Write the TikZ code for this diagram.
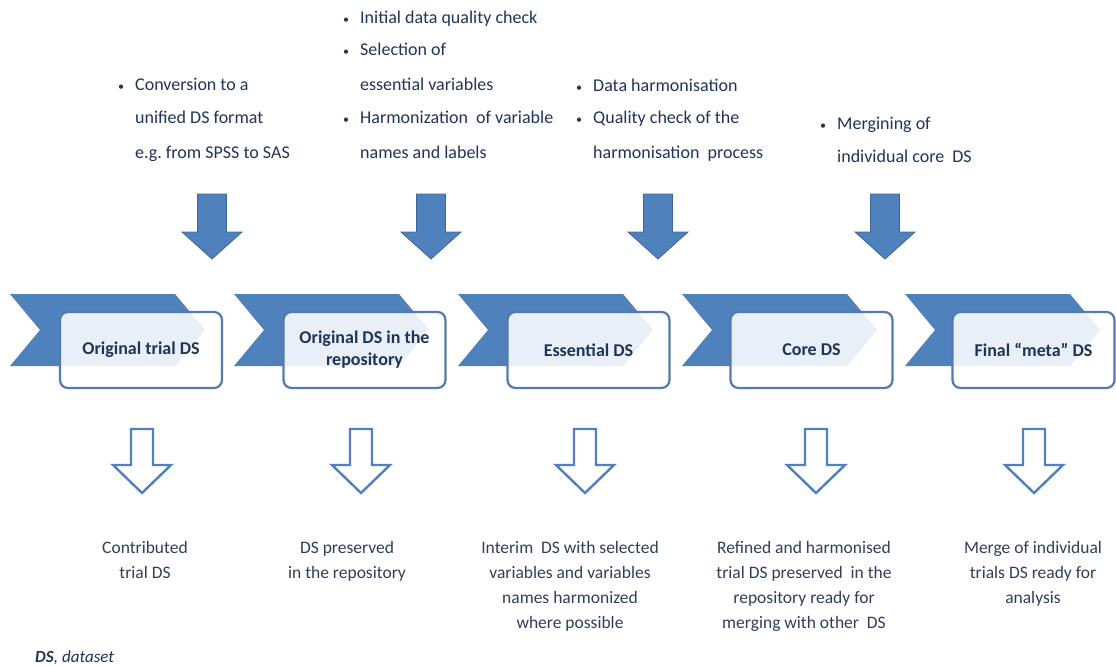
\documentclass[tikz,border=0pt]{standalone}
\usepackage{fontspec}
\setmainfont{Carlito}
\frenchspacing
\definecolor{chev}{RGB}{79,129,189}
\definecolor{chevdark}{RGB}{62,102,152}
\definecolor{boxline}{RGB}{86,122,172}
\definecolor{txt}{RGB}{31,52,88}
\definecolor{txtb}{RGB}{48,62,86}
\begin{document}
\begin{tikzpicture}[x=1pt,y=-1pt,
  chevron/.style={fill=chev},
  stagebox/.style={draw=boxline, line width=2.2pt, rounded corners=8pt, fill=white, fill opacity=0.88, text opacity=1, minimum width=162pt, minimum height=76pt, inner sep=2pt, align=center, font=\bfseries\fontsize{18}{22}\selectfont, text=txt},
  topline/.style={anchor=base west, inner sep=0pt, font=\fontsize{18}{22}\selectfont, text=txt},
  botline/.style={anchor=base, inner sep=0pt, font=\fontsize{17.5}{21}\selectfont, text=txtb},
  bul/.style={anchor=base west, inner sep=0pt, font=\fontsize{12}{12}\selectfont, text=txt},
  fatarrow/.style={fill=chev, draw=chevdark, line width=0.8pt, line join=miter},
  hollowarrow/.style={draw=chev, fill=white, line width=2.4pt, line join=miter},
  foot/.style={anchor=base west, inner sep=0pt, font=\fontsize{17}{20}\selectfont, text=txt}
]
\useasboundingbox (0,0) rectangle (1116,666);

% chevrons
\foreach \x in {10,234,458,682,905}
  \fill[chevron] (\x,294) -- ++(165,0) -- ++(30,36) -- ++(-30,36) -- ++(-165,0) -- ++(30,-36) -- cycle;

% stage boxes
\node[stagebox] (b1) at (141,350) {Original trial DS};
\node[stagebox] (b2) at (364.5,350) {Original DS in the\\repository};
\node[stagebox] (b3) at (588.5,350) {Essential DS};
\node[stagebox] (b4) at (811.5,350) {Core DS};
\node[stagebox] (b5) at (1033.5,350) {Final “meta” DS};

% top filled arrows
\foreach \x in {212,431,658,885}
  \draw[fatarrow, shift={(\x,194)}] (-14.5,0) -- (14.5,0) -- (14.5,38) -- (30,38) -- (0,65) -- (-30,38) -- (-14.5,38) -- cycle;

% bottom hollow arrows
\foreach \x in {142,361,585,816,1034}
  \draw[hollowarrow, shift={(\x,429)}] (-11,0) -- (11,0) -- (11,36) -- (29,36) -- (0,64) -- (-29,36) -- (-11,36) -- cycle;

% top texts
\node[bul] (u11) at (118,91) {\textbullet};
\foreach \y/\t [count=\k] in {91/Conversion to a, 124/unified DS format, 158/e.g. from SPSS to SAS}
  \node[topline] (ta\k) at (135,\y) {\t};

\node[bul] (u21) at (343,24) {\textbullet};
\node[bul] (u22) at (343,56) {\textbullet};
\node[bul] (u23) at (343,124) {\textbullet};
\foreach \y/\t [count=\k] in {24/Initial data quality check, 56/Selection of, 91/essential variables, 124/Harmonization\ \ of variable, 158/names and labels}
  \node[topline] (tb\k) at (360,\y) {\t};

\node[bul] (u31) at (576,92) {\textbullet};
\node[bul] (u32) at (576,124) {\textbullet};
\foreach \y/\t [count=\k] in {92/Data harmonisation, 124/Quality check of the, 158/harmonisation\ \ process}
  \node[topline] (tc\k) at (593,\y) {\t};

\node[bul] (u41) at (820,129) {\textbullet};
\foreach \y/\t [count=\k] in {129/Mergining of, 162/individual core\ \ DS}
  \node[topline] (td\k) at (837,\y) {\t};

% bottom texts
\foreach \y/\t [count=\k] in {553/Contributed, 578/trial DS}
  \node[botline] (ba\k) at (145,\y) {\t};
\foreach \y/\t [count=\k] in {553/DS preserved, 578/in the repository}
  \node[botline] (bb\k) at (347,\y) {\t};
\foreach \y/\t [count=\k] in {553/Interim\ \ DS with selected, 578/variables and variables, 603/names harmonized, 628/where possible}
  \node[botline] (bc\k) at (570,\y) {\t};
\foreach \y/\t [count=\k] in {553/Refined and harmonised, 578/trial DS preserved\ \ in the, 603/repository ready for, 628/merging with other\ \ DS}
  \node[botline] (bd\k) at (804,\y) {\t};
\foreach \y/\t [count=\k] in {553/Merge of individual, 578/trials DS ready for, 603/analysis}
  \node[botline] (be\k) at (1033,\y) {\t};

% footnote
\node[foot] (fn) at (35,662) {\textbf{\textit{DS}}\textit{, dataset}};
\end{tikzpicture}
\end{document}
